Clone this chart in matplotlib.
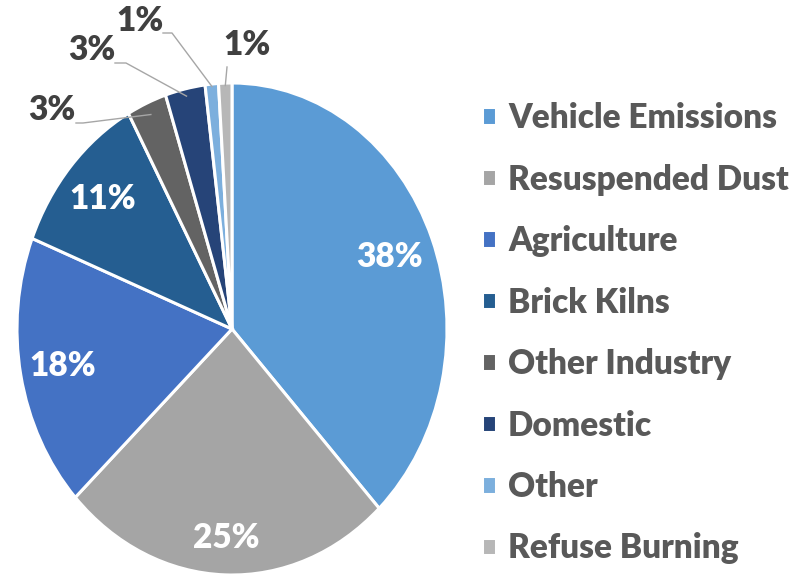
import matplotlib.pyplot as plt
import numpy as np

plt.rcParams['font.family'] = ['Lato', 'DejaVu Sans']
plt.rcParams['font.weight'] = 'bold'

sources = ["Vehicle Emissions", "Resuspended Dust", "Agriculture", "Brick Kilns",
           "Other Industry", "Domestic", "Other", "Refuse Burning"]
shares = [38, 25, 18, 11, 3, 3, 1, 1]
colors = ["#5B9BD5", "#A5A5A5", "#4472C4", "#255E91",
          "#636363", "#264478", "#7CAFDD", "#B7B7B7"]

W, H = 808, 577
fig = plt.figure(figsize=(W / 100, H / 100), dpi=100)
# pie is drawn stretched (ellipse), centre ~ (232, 329) px, rx 215, ry 246
cx, cy, rx, ry = 232, 329, 215, 246
ax = fig.add_axes([(cx - rx) / W, (H - cy - ry) / H, 2 * rx / W, 2 * ry / H])

wedges, _ = ax.pie(shares, colors=colors, startangle=90, counterclock=False,
                   wedgeprops=dict(edgecolor="white", linewidth=2.2))
ax.set_aspect("auto")
ax.set_xlim(-1, 1)
ax.set_ylim(-1, 1)


def px2data(px, py):
    return (px - cx) / rx, (cy - py) / ry


def mid(w, r):
    a = np.deg2rad((w.theta1 + w.theta2) / 2)
    return r * np.cos(a), r * np.sin(a)


# labels inside the big slices
inside = {0: 0.79, 1: 0.85, 2: 0.80, 3: 0.80}
for i, r in inside.items():
    x, y = mid(wedges[i], r)
    ax.text(x, y, f"{shares[i]}%", color="white", fontsize=24, fontweight="heavy",
            ha="center", va="center")

# small slices: label position (px) and elbow point (px)
outside = {
    4: ((52, 110), [(76, 123), (83, 123)], 0.95),
    5: ((92, 50), [(115, 63), (126, 63)], 0.97),
    6: ((140, 21), [(163, 33), (172, 33)], 0.99),
    7: ((247, 45), [(227, 67)], 0.99),
}
for i, (lab, pts, r) in outside.items():
    lx, ly = px2data(*lab)
    ax.text(lx, ly, f"{shares[i]}%", color="#404040", fontsize=24, fontweight="heavy",
            ha="center", va="center", clip_on=False)
    line = [px2data(*p) for p in pts] + [mid(wedges[i], r)]
    xs, ys = zip(*line)
    ax.plot(xs, ys, color="#A6A6A6", lw=1.0, clip_on=False)

leg = fig.legend(wedges, sources, loc="upper left", bbox_to_anchor=(482 / W, 1 - 102 / H),
                 frameon=False, prop=dict(family="Lato", weight="heavy", size=24),
                 handlelength=0.42, handleheight=0.42, handletextpad=0.36,
                 labelspacing=0.885, labelcolor="#595959",
                 borderpad=0, borderaxespad=0)

fig.savefig("out.png", dpi=100)
